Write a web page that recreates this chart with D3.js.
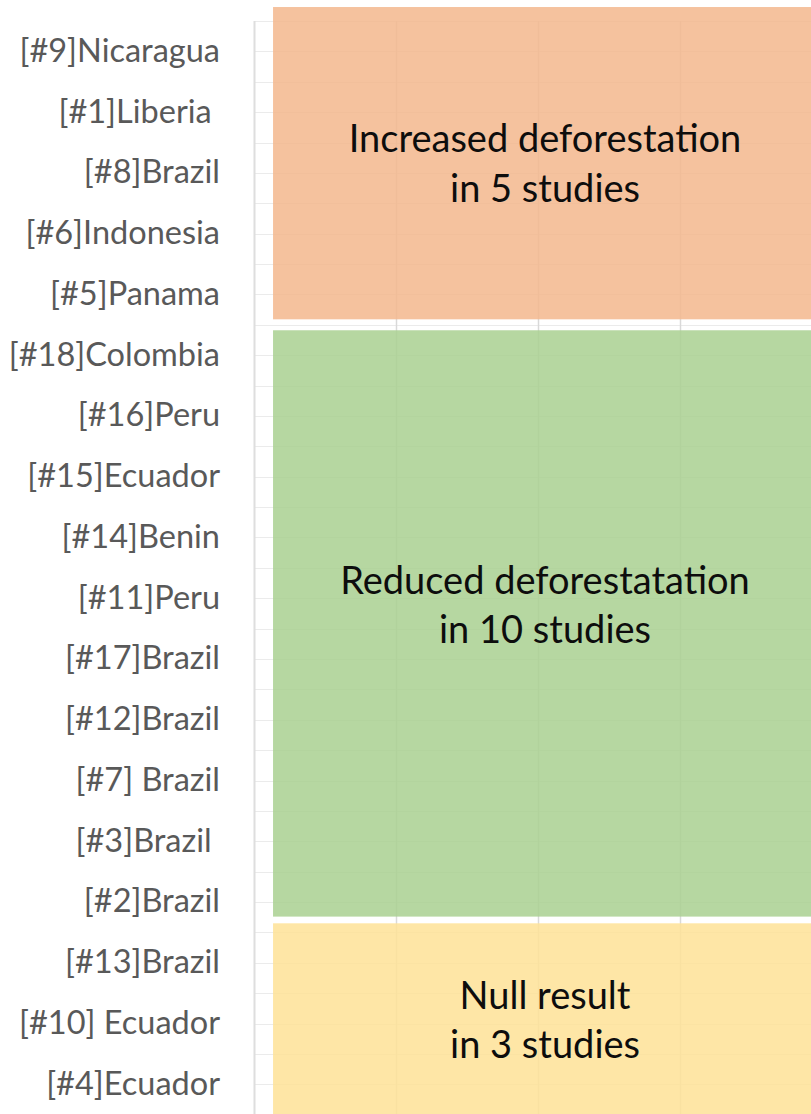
<!DOCTYPE html>
<html>
<head>
<meta charset="utf-8">
<script src="https://cdn.jsdelivr.net/npm/d3@7"></script>
<style>
  html, body { margin: 0; padding: 0; background: #fff; }
  svg { display: block; }
  text { white-space: pre; }
</style>
</head>
<body>
<div id="chart"></div>
<script>
// ---- data ----
const categories = [
  "[#9]Nicaragua", "[#1]Liberia ", "[#8]Brazil", "[#6]Indonesia", "[#5]Panama",
  "[#18]Colombia", "[#16]Peru", "[#15]Ecuador", "[#14]Benin", "[#11]Peru",
  "[#17]Brazil", "[#12]Brazil", "[#7] Brazil", "[#3]Brazil ", "[#2]Brazil",
  "[#13]Brazil", "[#10] Ecuador", "[#4]Ecuador"
];
const xTicks = [0, 1, 2, 3, 4];
const groupNames = ["increased", "reduced", "null"];
const groupLine1 = ["Increased deforestation", "Reduced deforestatation", "Null result"];
const groupLine2 = ["in 5 studies", "in 10 studies", "in 3 studies"];
const groupStart = [-0.23, 5.09, 14.85];   // in category rows
const groupEnd   = [4.91, 14.74, 18.2];
const groupTextRow = [2.557, 9.825, 16.655];
const groupXFrom = [0.134, 0.134, 0.134];
const groupXTo   = [3.965, 3.965, 3.965];
const groupColors = ["#F3B78D", "#A9D090", "#FEE296"];

// ---- layout ----
(function () {
const W = 811, H = 1114;
const plotTop = 21, rowH = 60.76;
const axisX = 254;

const svg = d3.select("#chart").append("svg")
  .attr("width", W).attr("height", H)
  .style("font-family", "Lato, 'Open Sans', sans-serif");

const yRow = d3.scaleLinear().domain([0, categories.length]).range([plotTop, plotTop + categories.length * rowH]);
const yBand = d3.scaleBand().domain(categories).range([plotTop, plotTop + categories.length * rowH]);
const x = d3.scaleLinear().domain([0, 4]).range([axisX, axisX + 4 * 142]);

// horizontal gridlines (every half row)
const halfRows = d3.range(0, categories.length * 2 + 1).map(d => d / 2);
svg.append("g").selectAll("line").data(halfRows).join("line")
  .attr("x1", axisX).attr("x2", W)
  .attr("y1", d => Math.round(yRow(d)) + 0.5).attr("y2", d => Math.round(yRow(d)) + 0.5)
  .attr("stroke", "#ebebeb").attr("stroke-width", 1.2);

// vertical gridlines
svg.append("g").selectAll("line").data(xTicks.filter(d => d > 0)).join("line")
  .attr("x1", d => Math.round(x(d)) + 0.5).attr("x2", d => Math.round(x(d)) + 0.5)
  .attr("y1", yRow(0)).attr("y2", H)
  .attr("stroke", "#d9d9d9").attr("stroke-width", 1.5);

// category axis
const yAxis = d3.axisLeft(yBand).tickSize(0).tickPadding(34);
const ga = svg.append("g").attr("transform", `translate(${axisX},0)`).call(yAxis);
ga.select(".domain").remove();
ga.selectAll("text")
  .attr("fill", "#595959")
  .style("font-size", "32.5px")
  .style("font-family", "Lato, 'Open Sans', sans-serif")
  .attr("dy", "0.32em");

// axis line
svg.append("line")
  .attr("x1", axisX + 0.5).attr("x2", axisX + 0.5)
  .attr("y1", yRow(0)).attr("y2", H)
  .attr("stroke", "#dedede").attr("stroke-width", 2);

// group rectangles
const gIdx = d3.range(groupNames.length);
svg.append("g").selectAll("rect").data(gIdx).join("rect")
  .attr("x", i => x(groupXFrom[i]))
  .attr("y", i => yRow(groupStart[i]))
  .attr("width", i => x(groupXTo[i]) - x(groupXFrom[i]))
  .attr("height", i => yRow(groupEnd[i]) - yRow(groupStart[i]))
  .attr("fill", i => groupColors[i])
  .attr("fill-opacity", 0.85);

// group labels
const cx = i => (x(groupXFrom[i]) + x(groupXTo[i])) / 2;
const lbl = svg.append("g").selectAll("text").data(gIdx).join("text")
  .attr("text-anchor", "middle")
  .attr("x", cx)
  .attr("y", i => yRow(groupTextRow[i]))
  .attr("fill", "#0d0d0d")
  .style("font-size", "38px");
lbl.append("tspan").attr("x", cx).attr("dy", "-0.63em").text(i => groupLine1[i]);
lbl.append("tspan").attr("x", cx).attr("dy", "1.3em").text(i => groupLine2[i]);
})();
</script>
</body>
</html>
